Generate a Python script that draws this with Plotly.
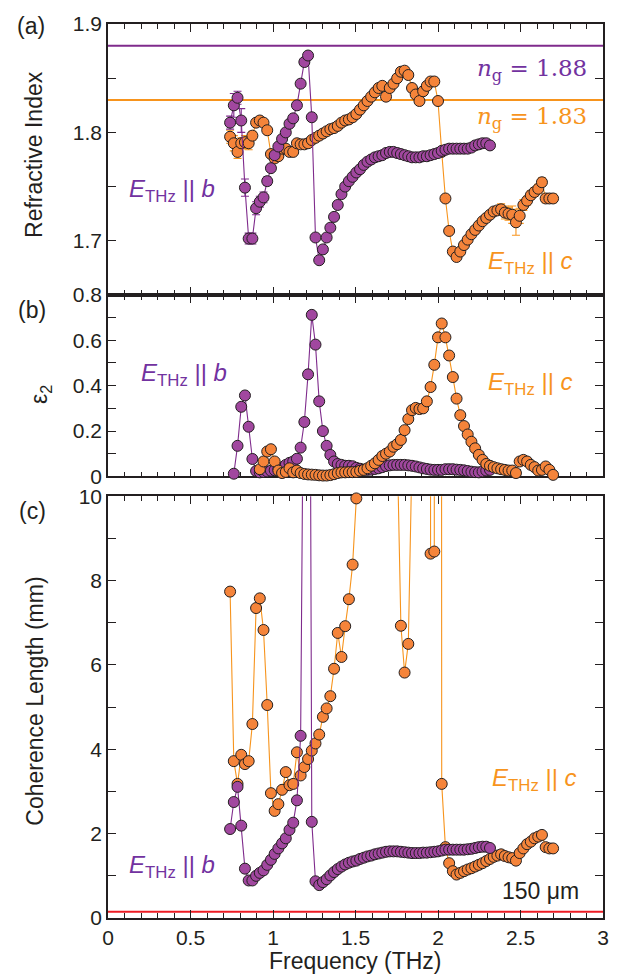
import plotly.graph_objects as go

# ---------------- data ----------------
# E_THz || b  (purple)
freq_b = [0.740, 0.7625, 0.785, 0.8075, 0.830, 0.8525, 0.875, 0.8975, 0.920, 0.9425,
          0.965, 0.9875, 1.010, 1.0325, 1.055, 1.0775, 1.100, 1.1225, 1.145, 1.1675,
          1.190, 1.2125, 1.235, 1.2575, 1.280, 1.3025, 1.325, 1.3475, 1.370, 1.3925,
          1.415, 1.4375, 1.460, 1.4825, 1.505, 1.5275, 1.550, 1.5725, 1.595, 1.6175,
          1.640, 1.6625, 1.685, 1.7075, 1.730, 1.7525, 1.775, 1.7975, 1.820, 1.8425,
          1.865, 1.8875, 1.910, 1.9325, 1.955, 1.9775, 2.000, 2.0225, 2.045, 2.0675,
          2.090, 2.1125, 2.135, 2.1575, 2.180, 2.2025, 2.225, 2.2475, 2.270, 2.2925, 2.315]
n_b = [1.809, 1.825, 1.832, 1.811, 1.749, 1.702, 1.702, 1.730, 1.736, 1.740,
       1.755, 1.767, 1.779, 1.787, 1.794, 1.800, 1.808, 1.813, 1.825, 1.845,
       1.865, 1.871, 1.814, 1.703, 1.682, 1.692, 1.703, 1.712, 1.722, 1.733,
       1.743, 1.750, 1.755, 1.759, 1.763, 1.766, 1.770, 1.773, 1.775, 1.777,
       1.778, 1.779, 1.781, 1.782, 1.782, 1.781, 1.780, 1.779, 1.778, 1.777,
       1.777, 1.777, 1.778, 1.778, 1.779, 1.780, 1.781, 1.783, 1.784, 1.785,
       1.785, 1.785, 1.785, 1.785, 1.785, 1.786, 1.788, 1.789, 1.790, 1.790, 1.788]
n_b_err_head = [0.006, 0.011, 0.006, 0.011, 0.008, 0.005, 0.005, 0.006, 0.005, 0.005, 0.004, 0.003, 0.002]
eps_b = [None, 0.012, 0.135, 0.307, 0.357, 0.219, 0.077, 0.024, 0.018, 0.020,
         0.022, 0.025, 0.028, 0.032, 0.040, 0.051, 0.060, 0.066, 0.078, 0.127,
         0.240, 0.450, 0.712, 0.581, 0.331, 0.200, 0.135, 0.095, 0.066, 0.055,
         0.051, 0.047, 0.047, 0.045, 0.038, 0.034, 0.030, 0.029, 0.030, 0.033,
         0.036, 0.041, 0.046, 0.049, 0.051, 0.051, 0.051, 0.051, 0.049, 0.047,
         0.044, 0.040, 0.036, 0.033, 0.030, 0.029, 0.029, 0.029, 0.032, 0.032,
         0.032, 0.030, 0.029, 0.027, 0.024, 0.021, 0.019, 0.018, 0.022, 0.026, 0.029]
lc_b = [2.11, 2.75, 3.11, 2.19, 1.17, 0.89, 0.89, 1.00, 1.07, 1.13,
        1.26, 1.38, 1.52, 1.65, 1.77, 1.89, 2.09, 2.26, 2.79, 4.32,
        16.0, 28.0, 2.28, 0.87, 0.78, 0.85, 0.92, 1.01, 1.09, 1.16,
        1.22, 1.27, 1.31, 1.34, 1.36, 1.40, 1.43, 1.46, 1.48, 1.51,
        1.53, 1.55, 1.57, 1.58, 1.58, 1.58, 1.57, 1.56, 1.55, 1.54,
        1.54, 1.54, 1.55, 1.55, 1.56, 1.57, 1.58, 1.60, 1.62, 1.62,
        1.62, 1.62, 1.62, 1.62, 1.63, 1.64, 1.66, 1.68, 1.69, 1.69, 1.66]

# E_THz || c  (orange)
freq_c = [0.740, 0.7625, 0.785, 0.8075, 0.830, 0.8525, 0.875, 0.8975, 0.920, 0.9425,
          0.965, 0.9875, 1.010, 1.0325, 1.055, 1.0775, 1.100, 1.1225, 1.145, 1.1675,
          1.190, 1.2125, 1.235, 1.2575, 1.280, 1.3025, 1.325, 1.3475, 1.370, 1.3925,
          1.415, 1.4375, 1.460, 1.4825, 1.505, 1.5275, 1.550, 1.5725, 1.595, 1.6175,
          1.640, 1.6625, 1.685, 1.7075, 1.730, 1.7525, 1.775, 1.7975, 1.820, 1.8425,
          1.865, 1.8875, 1.910, 1.9325, 1.955, 1.9775, 2.000, 2.0225, 2.045, 2.0675,
          2.090, 2.1125, 2.135, 2.1575, 2.180, 2.2025, 2.225, 2.2475, 2.270, 2.2925,
          2.315, 2.3375, 2.360, 2.3825, 2.405, 2.4275, 2.450, 2.4725, 2.495, 2.5175,
          2.540, 2.5625, 2.585, 2.6075, 2.630, 2.6525, 2.675, 2.6975]
n_c = [1.796, 1.790, 1.782, 1.790, 1.791, 1.790, 1.797, 1.809, 1.811, 1.809,
       1.802, 1.780, 1.776, 1.778, 1.785, 1.785, 1.782, 1.782, 1.790, 1.789,
       1.789, 1.790, 1.793, 1.795, 1.797, 1.799, 1.801, 1.803, 1.804, 1.806,
       1.809, 1.811, 1.812, 1.814, 1.817, 1.821, 1.825, 1.829, 1.833, 1.837,
       1.841, 1.843, 1.833, 1.841, 1.845, 1.850, 1.856, 1.857, 1.853, 1.841,
       1.835, 1.829, 1.838, 1.843, 1.847, 1.847, 1.829, 1.782, 1.739, 1.709,
       1.690, 1.685, 1.690, 1.696, 1.701, 1.706, 1.710, 1.714, 1.718, 1.721,
       1.724, 1.727, 1.728, 1.729, 1.726, 1.725, 1.724, 1.717, 1.723, 1.733,
       1.737, 1.742, 1.745, 1.748, 1.754, 1.739, 1.739, 1.739]
n_c_err = [0.006, 0.007, 0.006, 0.005, 0.006, 0.006, 0.004, 0.003, 0.002, 0.002,
           0.002, 0.003, 0.003, 0.003, 0.002, 0.002, 0.002, 0, 0, 0,
           0, 0, 0, 0, 0, 0, 0, 0, 0, 0,
           0, 0, 0, 0, 0, 0, 0, 0, 0, 0,
           0, 0, 0, 0, 0, 0, 0, 0, 0, 0,
           0, 0, 0, 0, 0, 0, 0, 0, 0, 0,
           0, 0, 0, 0, 0, 0, 0, 0, 0, 0,
           0, 0, 0.003, 0.005, 0.006, 0.006, 0.008, 0.012, 0.007, 0.005,
           0.004, 0.004, 0.004, 0.004, 0.004, 0.004, 0.004, 0.004]
eps_c = [None, None, None, None, None, None, None, None, 0.032, 0.066,
         0.110, 0.120, 0.066, 0.026, 0.015, 0.020, 0.036, 0.018, 0.026, 0.015,
         0.011, 0.009, 0.008, 0.007, 0.005, 0.004, 0.004, 0.006, 0.010, 0.015,
         0.018, 0.018, 0.019, 0.019, 0.020, 0.025, 0.029, 0.036, 0.047, 0.058,
         0.073, 0.090, 0.100, 0.110, 0.131, 0.142, 0.161, 0.204, 0.253, 0.292,
         0.302, 0.297, 0.300, 0.331, 0.394, 0.492, 0.613, 0.674, 0.613, 0.533,
         0.438, 0.343, 0.270, 0.222, 0.185, 0.153, 0.124, 0.095, 0.073, 0.055,
         0.047, 0.041, 0.036, 0.032, 0.029, 0.026, 0.026, 0.015, 0.066, 0.073,
         0.066, 0.051, 0.041, 0.026, 0.029, 0.044, 0.029, 0.007]
lc_c = [7.74, 3.72, 3.18, 3.87, 3.65, 3.72, 4.60, 7.35, 7.58, 6.83,
        5.05, 2.96, 2.54, 2.70, 3.04, 3.46, 3.15, 3.18, 3.93, 3.38,
        3.58, 3.77, 3.97, 4.14, 4.35, 4.77, 4.97, 5.26, 5.91, 6.76,
        6.19, 6.92, 7.56, 8.38, 9.95, 22.0, 39.0, 150.0, 65.0, 26.0,
        16.0, 14.0, 60.0, 17.0, 13.0, 11.3, 6.93, 5.82, 6.50, 11.0,
        35.0, 150.0, 40.0, 120.0, 8.64, 8.69, 200.0, 3.18, 1.68, 1.30,
        1.11, 1.03, 1.07, 1.11, 1.15, 1.18, 1.22, 1.26, 1.30, 1.35,
        1.40, 1.45, 1.48, 1.51, 1.47, 1.44, 1.42, 1.36, 1.54, 1.65,
        1.75, 1.81, 1.89, 1.93, 1.97, 1.68, 1.65, 1.65]

ng_b = 1.88
ng_c = 1.83
thickness_mm = 0.15

n_b_err = n_b_err_head + [0] * (len(n_b) - len(n_b_err_head))

# ---------------- styling ----------------
PURPLE_FILL = '#A1479F'
PURPLE_LINE = '#7F2B8C'
PURPLE_TEXT = '#7232A0'
ORANGE_FILL = '#F5843A'
ORANGE_LINE = '#F7941D'
ORANGE_TEXT = '#F7941D'
RED = '#ED1C24'
DARK = '#231F20'
SANS = 'Liberation Sans, Arial, sans-serif'
SERIF = 'DejaVu Serif, serif'

W, H = 627, 976
L_M, R_M, T_M, B_M = 108, 24, 17, 58
PW = W - L_M - R_M
PH = H - T_M - B_M


def px_x(px):
    return (px - L_M) / PW


def px_y(py):
    return (H - B_M - py) / PH


fig = go.Figure()


def add_series(x, y, xa, ya, fill, line, ymax, err=None, err_color=None):
    fig.add_trace(go.Scatter(
        x=x, y=y, mode='lines', xaxis=xa, yaxis=ya,
        line=dict(color=line, width=1.1), hoverinfo='skip', showlegend=False))
    ym = [v if (v is not None and v <= ymax) else None for v in y]
    kw = {}
    if err is not None:
        kw['error_y'] = dict(type='data', array=err, visible=True,
                             color=err_color, thickness=1.1, width=4)
    fig.add_trace(go.Scatter(
        x=x, y=ym, mode='markers', xaxis=xa, yaxis=ya, cliponaxis=False,
        marker=dict(size=11, color=fill, line=dict(color=DARK, width=1)),
        showlegend=False, **kw))


# (a) refractive index: orange below, purple above
add_series(freq_c, n_c, 'x', 'y', ORANGE_FILL, ORANGE_LINE, 1.9, n_c_err, ORANGE_LINE)
add_series(freq_b, n_b, 'x', 'y', PURPLE_FILL, PURPLE_LINE, 1.9, n_b_err, PURPLE_LINE)
# (b) eps2: purple below, orange above
add_series(freq_b, eps_b, 'x2', 'y2', PURPLE_FILL, PURPLE_LINE, 0.8)
add_series(freq_c, eps_c, 'x2', 'y2', ORANGE_FILL, ORANGE_LINE, 0.8)
# (c) coherence length: orange below, purple above
add_series(freq_c, lc_c, 'x3', 'y3', ORANGE_FILL, ORANGE_LINE, 10)
add_series(freq_b, lc_b, 'x3', 'y3', PURPLE_FILL, PURPLE_LINE, 10)

# reference lines
shapes = [
    dict(type='line', xref='x domain', yref='y', x0=0, x1=1, y0=ng_b, y1=ng_b,
         line=dict(color=PURPLE_LINE, width=2), layer='below'),
    dict(type='line', xref='x domain', yref='y', x0=0, x1=1, y0=ng_c, y1=ng_c,
         line=dict(color=ORANGE_LINE, width=2), layer='below'),
    dict(type='line', xref='x3 domain', yref='y3', x0=0, x1=1, y0=thickness_mm, y1=thickness_mm,
         line=dict(color=RED, width=2), layer='below'),
]

tickfont = dict(family=SANS, size=21, color=DARK)


def xaxis_style(anchor, labels):
    return dict(range=[0, 3], dtick=0.5, tick0=0, anchor=anchor, domain=[0, 1],
                ticks='inside', ticklen=8, tickwidth=1.3, tickcolor=DARK,
                showline=True, linecolor=DARK, linewidth=1.5, mirror='ticks',
                showgrid=False, zeroline=False, showticklabels=labels,
                tickfont=tickfont, layer='below traces',
                minor=dict(dtick=0.1, tick0=0, ticks='inside', ticklen=5,
                           tickwidth=1.1, tickcolor=DARK, showgrid=False))


def yaxis_style(anchor, domain, rng, dtick, tick0, mdtick):
    return dict(range=rng, dtick=dtick, tick0=tick0, anchor=anchor, domain=domain,
                ticks='inside', ticklen=8, tickwidth=1.3, tickcolor=DARK,
                showline=True, linecolor=DARK, linewidth=1.5, mirror='ticks',
                showgrid=False, zeroline=False, tickfont=tickfont,
                layer='below traces',
                minor=dict(dtick=mdtick, tick0=tick0, ticks='inside', ticklen=8,
                           tickwidth=1.1, tickcolor=DARK, showgrid=False))


dom_a = [px_y(290), 1]
dom_b = [px_y(473), px_y(290)]
dom_c = [0, px_y(493)]

ann = []


def text(x, y, s, size=23, color=DARK, family=SANS, angle=0):
    ann.append(dict(xref='paper', yref='paper', x=px_x(x), y=px_y(y), text=s,
                    showarrow=False, textangle=angle, xanchor='center', yanchor='middle',
                    font=dict(family=family, size=size, color=color)))


# axis titles
text(34, 149, 'Refractive Index', angle=-90)
text(40, 391, 'ε<sub>2</sub>', angle=-90)
text(35, 700, 'Coherence Length (mm)', angle=-90)
text(355, 961, 'Frequency (THz)')
# panel labels
text(31, 19, '(a)', size=23)
text(32, 305, '(b)', size=23)
text(32, 508, '(c)', size=23)
# series labels
lab_b = '<i>E</i><sub>THz</sub> || <i>b</i>'
lab_c = '<i>E</i><sub>THz</sub> || <i>c</i>'
text(172, 185, lab_b, size=24, color=PURPLE_TEXT)
text(184, 370, lab_b, size=24, color=PURPLE_TEXT)
text(172, 866, lab_b, size=24, color=PURPLE_TEXT)
text(530, 257, lab_c, size=24, color=ORANGE_TEXT)
text(530, 379, lab_c, size=24, color=ORANGE_TEXT)
text(534, 778, lab_c, size=24, color=ORANGE_TEXT)
text(532, 63, '<i>n</i><sub>g</sub> = %.2f' % ng_b, size=23, color=PURPLE_TEXT, family=SERIF)
text(532, 112, '<i>n</i><sub>g</sub> = %.2f' % ng_c, size=23, color=ORANGE_TEXT, family=SERIF)
text(540, 891, '%d μm' % round(thickness_mm * 1000), size=23)

fig.update_layout(
    width=W, height=H,
    margin=dict(l=L_M, r=R_M, t=T_M, b=B_M, pad=0),
    paper_bgcolor='white', plot_bgcolor='white',
    showlegend=False,
    xaxis=xaxis_style('y', False),
    xaxis2=xaxis_style('y2', False),
    xaxis3=xaxis_style('y3', True),
    yaxis=yaxis_style('x', dom_a, [1.65, 1.9001], 0.1, 1.7, 0.05),
    yaxis2=yaxis_style('x2', dom_b, [0, 0.8001], 0.2, 0, 0.1),
    yaxis3=yaxis_style('x3', dom_c, [0, 10], 2, 0, 1),
    shapes=shapes,
    annotations=ann,
)

fig.write_html('out.html')
